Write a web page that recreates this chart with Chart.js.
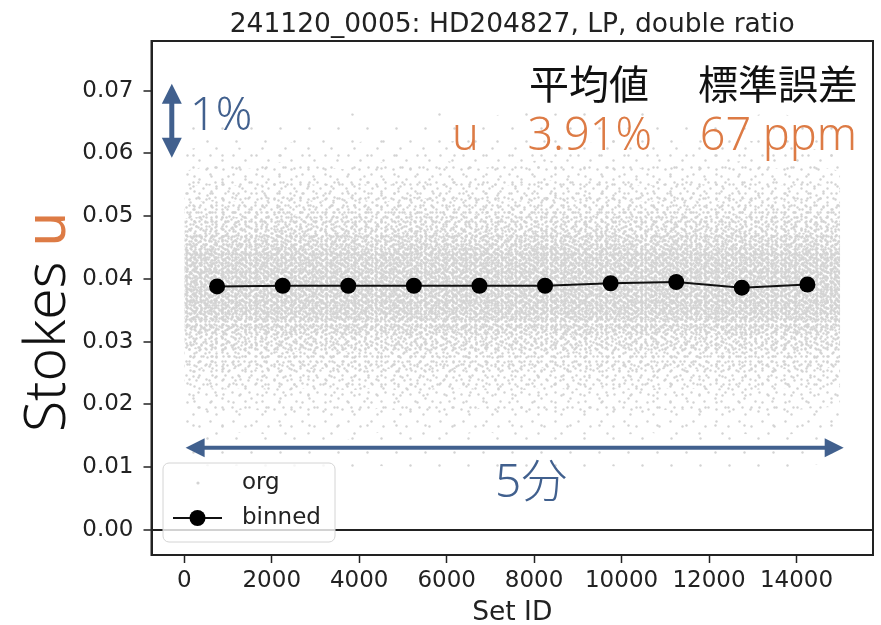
<!DOCTYPE html>
<html>
<head>
<meta charset="utf-8">
<script src="https://cdn.jsdelivr.net/npm/chart.js@4"></script>
<style>
html,body{margin:0;padding:0;background:#ffffff;}
#wrap{width:881px;height:625px;position:relative;}
</style>
</head>
<body>
<div id="wrap"><canvas id="c" width="881" height="625"></canvas></div>
<script>
// ---------------- data ----------------
const TITLE = "241120_0005: HD204827, LP, double ratio";
const X_LABEL = "Set ID";
const Y_LABEL_MAIN = "Stokes ";
const Y_LABEL_PARAM = "u";
const X_TICKS = [0, 2000, 4000, 6000, 8000, 10000, 12000, 14000];
const Y_TICKS = [0.00, 0.01, 0.02, 0.03, 0.04, 0.05, 0.06, 0.07];
const LEGEND_LABELS = ["org", "binned"];

// binned means
const BIN_X = [750, 2250, 3750, 5250, 6750, 8250, 9750, 11250, 12750, 14250];
const BIN_Y = [0.0388, 0.0389, 0.0389, 0.0389, 0.0389, 0.0389, 0.0393, 0.0395, 0.0386, 0.0391];

// envelopes of the "org" cloud, read by density level (L1 = sparsest outer ... L8 = densest core)
const CLOUD_X = [0, 750, 1500, 2250, 3000, 3750, 4500, 5250, 6000, 6750, 7500, 8250, 9000, 9750, 10500, 11250, 12000, 12750, 13500, 14250, 15000];
const L1_HI = [0.0640,0.0655,0.0650,0.0662,0.0648,0.0665,0.0655,0.0660,0.0670,0.0652,0.0668,0.0660,0.0672,0.0658,0.0665,0.0650,0.0662,0.0655,0.0668,0.0650,0.0645];
const L1_LO = [0.0110,0.0098,0.0105,0.0092,0.0100,0.0090,0.0102,0.0095,0.0088,0.0100,0.0092,0.0098,0.0090,0.0102,0.0095,0.0100,0.0092,0.0098,0.0095,0.0102,0.0110];
const L2_HI = [0.0605,0.0616,0.0606,0.0620,0.0610,0.0615,0.0624,0.0608,0.0618,0.0626,0.0610,0.0622,0.0612,0.0624,0.0608,0.0618,0.0610,0.0622,0.0614,0.0608,0.0602];
const L2_LO = [0.0162,0.0150,0.0157,0.0146,0.0153,0.0144,0.0156,0.0149,0.0146,0.0157,0.0150,0.0144,0.0153,0.0147,0.0156,0.0150,0.0146,0.0153,0.0149,0.0156,0.0162];
const L3_HI = [0.0572,0.0583,0.0576,0.0587,0.0580,0.0574,0.0586,0.0579,0.0588,0.0576,0.0584,0.0590,0.0579,0.0586,0.0576,0.0585,0.0579,0.0588,0.0576,0.0583,0.0572];
const L3_LO = [0.0197,0.0187,0.0193,0.0183,0.0190,0.0185,0.0194,0.0187,0.0183,0.0193,0.0186,0.0190,0.0183,0.0190,0.0187,0.0193,0.0185,0.0190,0.0187,0.0193,0.0197];
const L4_HI = [0.0546,0.0553,0.0546,0.0557,0.0550,0.0554,0.0547,0.0558,0.0550,0.0555,0.0548,0.0558,0.0551,0.0556,0.0548,0.0554,0.0550,0.0556,0.0547,0.0553,0.0546];
const L4_LO = [0.0230,0.0223,0.0227,0.0220,0.0228,0.0222,0.0226,0.0219,0.0227,0.0223,0.0221,0.0227,0.0222,0.0226,0.0221,0.0227,0.0223,0.0220,0.0227,0.0223,0.0230];
const L5_HI = [0.0520,0.0527,0.0520,0.0530,0.0524,0.0528,0.0522,0.0531,0.0525,0.0528,0.0523,0.0531,0.0525,0.0529,0.0523,0.0528,0.0522,0.0529,0.0523,0.0527,0.0520];
const L5_LO = [0.0260,0.0254,0.0258,0.0251,0.0257,0.0253,0.0258,0.0251,0.0257,0.0253,0.0255,0.0258,0.0251,0.0257,0.0253,0.0258,0.0255,0.0251,0.0257,0.0254,0.0260];
const L6_HI = [0.0496,0.0502,0.0496,0.0505,0.0499,0.0503,0.0497,0.0506,0.0500,0.0504,0.0498,0.0506,0.0501,0.0504,0.0498,0.0503,0.0500,0.0504,0.0498,0.0502,0.0496];
const L6_LO = [0.0290,0.0284,0.0288,0.0281,0.0287,0.0283,0.0288,0.0281,0.0287,0.0283,0.0285,0.0288,0.0281,0.0287,0.0283,0.0288,0.0285,0.0281,0.0287,0.0284,0.0290];
const L7_HI = [0.0469,0.0474,0.0468,0.0477,0.0471,0.0475,0.0469,0.0478,0.0472,0.0476,0.0470,0.0478,0.0473,0.0476,0.0470,0.0475,0.0472,0.0476,0.0470,0.0474,0.0469];
const L7_LO = [0.0318,0.0312,0.0316,0.0309,0.0315,0.0311,0.0316,0.0309,0.0315,0.0311,0.0313,0.0316,0.0309,0.0315,0.0311,0.0316,0.0313,0.0309,0.0315,0.0312,0.0318];
const L8_HI = [0.0444,0.0449,0.0443,0.0452,0.0446,0.0450,0.0444,0.0453,0.0447,0.0451,0.0445,0.0453,0.0448,0.0451,0.0445,0.0450,0.0447,0.0451,0.0445,0.0449,0.0444];
const L8_LO = [0.0343,0.0338,0.0342,0.0336,0.0341,0.0337,0.0342,0.0336,0.0341,0.0337,0.0339,0.0342,0.0336,0.0341,0.0337,0.0342,0.0339,0.0336,0.0341,0.0338,0.0343];

// annotation texts
const STAT_HEADERS = ["平均値", "標準誤差"];
const STAT_PARAM = "u";
const STAT_MEAN = "3.91%";
const STAT_ERR = "67 ppm";
const SCALE_V_LABEL = "1%";
const SCALE_H_LABEL = "5分";

// ---------------- styles ----------------
const ORANGE = "#dd7b45";
const BLUE = "#41608e";
const INK = "#222222";
const DOT = "#d3d3d3";
const TICK_FONT = '"DejaVu Sans", sans-serif';
const ANN_FONT = '"Noto Sans", "Noto Sans CJK JP", sans-serif';
const CJK_FONT = '"Noto Sans CJK JP", "Noto Sans", sans-serif';

// dot textures used to render the point cloud density
function makePattern(w, h, dots, r, color) {
  const c = document.createElement("canvas");
  c.width = w; c.height = h;
  const g = c.getContext("2d");
  g.fillStyle = color;
  for (const [px, py] of dots) {
    for (const dx of [-w, 0, w]) for (const dy of [-h, 0, h]) {
      g.beginPath();
      g.arc(px + 0.5 + dx, py + 0.5 + dy, r, 0, Math.PI * 2);
      g.fill();
    }
  }
  return g.createPattern(c, "repeat");
}
const PATTERNS = [
  makePattern(29, 27, [[4, 6], [19, 20]], 1.2, DOT),
  makePattern(23, 19, [[3, 3], [15, 8], [9, 15]], 1.2, DOT),
  makePattern(17, 15, [[2, 4], [11, 2], [7, 11]], 1.2, DOT),
  makePattern(13, 14, [[1, 2], [8, 6], [4, 11]], 1.2, DOT),
  makePattern(11, 12, [[2, 1], [7, 5], [3, 8]], 1.2, DOT),
  makePattern(10, 9, [[1, 3], [6, 1], [5, 6]], 1.2, DOT),
  makePattern(9, 8, [[2, 1], [7, 4], [3, 6], [6, 7]], 1.2, DOT),
  makePattern(7, 6, [[1, 2], [4, 5], [5, 1]], 1.2, DOT)
];

function pts(xs, ys) { return xs.map((x, i) => ({ x: x, y: ys[i] })); }
function band(lo, hi, pattern, order) {
  return [
    { label: LEGEND_LABELS[0], data: pts(CLOUD_X, lo), borderWidth: 0, pointRadius: 0, fill: false, order: order, tension: 0 },
    { label: LEGEND_LABELS[0], data: pts(CLOUD_X, hi), borderWidth: 0, pointRadius: 0, fill: "-1", backgroundColor: pattern, order: order, tension: 0 }
  ];
}

const datasets = [
  {
    label: LEGEND_LABELS[1],
    data: pts(BIN_X, BIN_Y),
    borderColor: "#111111",
    borderWidth: 2,
    pointRadius: 8,
    pointBackgroundColor: "#000000",
    pointBorderWidth: 0,
    fill: false,
    order: 0,
    tension: 0
  },
  ...band(L1_LO, L1_HI, PATTERNS[0], 8),
  ...band(L2_LO, L2_HI, PATTERNS[1], 7),
  ...band(L3_LO, L3_HI, PATTERNS[2], 6),
  ...band(L4_LO, L4_HI, PATTERNS[3], 5),
  ...band(L5_LO, L5_HI, PATTERNS[4], 4),
  ...band(L6_LO, L6_HI, PATTERNS[5], 3),
  ...band(L7_LO, L7_HI, PATTERNS[6], 2),
  ...band(L8_LO, L8_HI, PATTERNS[7], 1)
];

function arrowHead(ctx, tx, ty, ux, uy, len, half) {
  const bx = tx - ux * len, by = ty - uy * len;
  ctx.beginPath();
  ctx.moveTo(tx, ty);
  ctx.lineTo(bx - uy * half, by + ux * half);
  ctx.lineTo(bx + uy * half, by - ux * half);
  ctx.closePath();
  ctx.fill();
}
function doubleArrow(ctx, x1, y1, x2, y2, len, half, width, color) {
  const d = Math.hypot(x2 - x1, y2 - y1);
  const ux = (x2 - x1) / d, uy = (y2 - y1) / d;
  ctx.save();
  ctx.strokeStyle = color; ctx.fillStyle = color; ctx.lineWidth = width;
  ctx.beginPath();
  ctx.moveTo(x1 + ux * (len - 1), y1 + uy * (len - 1));
  ctx.lineTo(x2 - ux * (len - 1), y2 - uy * (len - 1));
  ctx.stroke();
  arrowHead(ctx, x2, y2, ux, uy, len, half);
  arrowHead(ctx, x1, y1, -ux, -uy, len, half);
  ctx.restore();
}

const decor = {
  id: "decor",
  afterDraw(chart) {
    const ctx = chart.ctx, ca = chart.chartArea;
    const xs = chart.scales.x, ys = chart.scales.y;
    ctx.save();
    ctx.strokeStyle = INK; ctx.lineWidth = 2;
    ctx.strokeRect(ca.left, ca.top, ca.right - ca.left, ca.bottom - ca.top);

    // title and x label
    ctx.fillStyle = INK;
    ctx.font = '26.5px ' + TICK_FONT;
    ctx.textAlign = "center"; ctx.textBaseline = "alphabetic";
    ctx.fillText(TITLE, (ca.left + ca.right) / 2, 32);
    ctx.fillText(X_LABEL, (ca.left + ca.right) / 2, 620);

    // y label (two colours)
    ctx.save();
    ctx.translate(65, 432);
    ctx.rotate(-Math.PI / 2);
    ctx.font = '300 57px ' + ANN_FONT;
    ctx.textAlign = "left";
    ctx.fillStyle = "#111111";
    ctx.fillText(Y_LABEL_MAIN, 0, 0);
    const w = ctx.measureText(Y_LABEL_MAIN).width;
    ctx.fillStyle = ORANGE;
    ctx.font = '57px ' + ANN_FONT;
    ctx.fillText(Y_LABEL_PARAM, w, 0);
    ctx.restore();

    // scale arrows
    const vx = xs.getPixelForValue(-286);
    doubleArrow(ctx, vx, ys.getPixelForValue(0.07107), vx, ys.getPixelForValue(0.05928), 20, 10, 5, BLUE);
    const hy = ys.getPixelForValue(0.0131);
    doubleArrow(ctx, xs.getPixelForValue(30), hy, xs.getPixelForValue(15080), hy, 19, 9.5, 4, BLUE);
    ctx.fillStyle = BLUE;
    ctx.textAlign = "left";
    ctx.font = '300 45px ' + ANN_FONT;
    ctx.fillText(SCALE_V_LABEL, 190, 130);
    ctx.font = '300 46px ' + ANN_FONT;
    ctx.fillText(SCALE_H_LABEL, 495, 497);

    // statistics block
    ctx.fillStyle = "#111111";
    ctx.font = '40px ' + CJK_FONT;
    ctx.textAlign = "right";
    ctx.fillText(STAT_HEADERS[0], 649, 99);
    ctx.fillText(STAT_HEADERS[1], 858, 99);
    ctx.fillStyle = ORANGE;
    ctx.font = '300 45px ' + ANN_FONT;
    ctx.fillText(STAT_MEAN, 652, 150);
    ctx.fillText(STAT_ERR, 857, 150);
    ctx.textAlign = "left";
    ctx.fillText(STAT_PARAM, 452, 150);

    // legend
    const lx = ca.left + 11.5, ly = ca.bottom - 92, lw = 172, lh = 79;
    ctx.beginPath();
    ctx.roundRect(lx, ly, lw, lh, 6);
    ctx.fillStyle = "rgba(255,255,255,0.8)";
    ctx.fill();
    ctx.strokeStyle = "#d4d4d4"; ctx.lineWidth = 1;
    ctx.stroke();
    ctx.fillStyle = DOT;
    ctx.beginPath(); ctx.arc(lx + 35, ly + 20, 1.6, 0, Math.PI * 2); ctx.fill();
    ctx.strokeStyle = "#111111"; ctx.lineWidth = 2;
    ctx.beginPath(); ctx.moveTo(lx + 10, ly + 55); ctx.lineTo(lx + 59, ly + 55); ctx.stroke();
    ctx.fillStyle = "#000000";
    ctx.beginPath(); ctx.arc(lx + 34.5, ly + 55, 8, 0, Math.PI * 2); ctx.fill();
    ctx.fillStyle = INK;
    ctx.font = '23px ' + TICK_FONT;
    ctx.textAlign = "left"; ctx.textBaseline = "middle";
    ctx.fillText(LEGEND_LABELS[0], lx + 79, ly + 20);
    ctx.fillText(LEGEND_LABELS[1], lx + 79, ly + 55);
    ctx.restore();
  }
};

new Chart(document.getElementById("c"), {
  type: "line",
  data: { datasets: datasets },
  plugins: [decor],
  options: {
    responsive: false,
    animation: false,
    devicePixelRatio: 1,
    layout: { padding: { left: 0, top: 41, right: 7, bottom: 0 } },
    plugins: { legend: { display: false }, tooltip: { enabled: false }, title: { display: false } },
    scales: {
      x: {
        type: "linear",
        min: -750, max: 15750,
        afterBuildTicks: s => { s.ticks = X_TICKS.map(v => ({ value: v })); },
        afterFit: s => { s.height = 70; },
        ticks: {
          includeBounds: false, autoSkip: false, maxRotation: 0,
          color: INK, padding: 4,
          font: { family: "DejaVu Sans", size: 23 },
          callback: v => String(v)
        },
        grid: { drawOnChartArea: false, tickLength: 8, tickColor: INK, tickWidth: 1.5 },
        border: { color: INK, width: 2 }
      },
      y: {
        type: "linear",
        min: -0.0040, max: 0.0779,
        afterBuildTicks: s => { s.ticks = Y_TICKS.map(v => ({ value: v })); },
        afterFit: s => { s.width = 151.5; },
        ticks: {
          includeBounds: false, autoSkip: false,
          color: INK, padding: 10,
          font: { family: "DejaVu Sans", size: 23 },
          callback: v => Number(v).toFixed(2)
        },
        grid: {
          drawOnChartArea: true,
          color: c => (c.tick && Math.abs(c.tick.value) < 1e-9) ? "#222222" : "rgba(0,0,0,0)",
          lineWidth: 2,
          tickLength: 8, tickColor: INK, tickWidth: 1.5
        },
        border: { color: INK, width: 2 }
      }
    }
  }
});
</script>
</body>
</html>
